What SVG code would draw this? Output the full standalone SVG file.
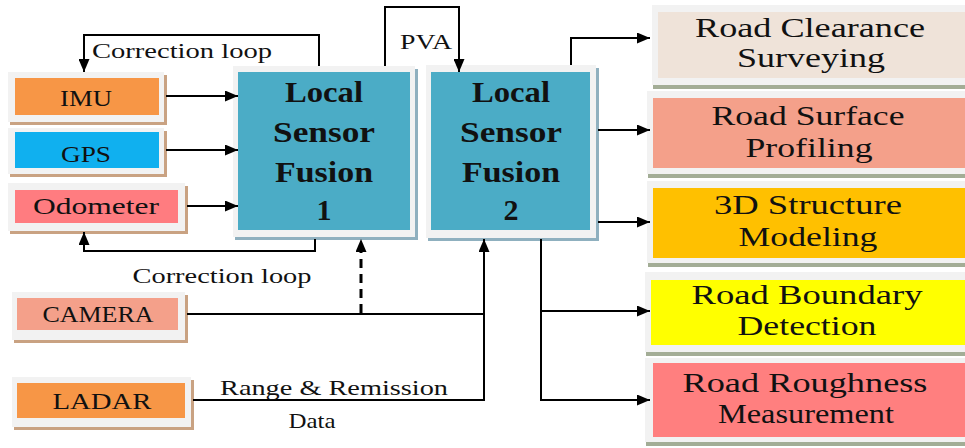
<svg xmlns="http://www.w3.org/2000/svg" width="965" height="448" viewBox="0 0 965 448">
<defs>
<marker id="arr" markerUnits="userSpaceOnUse" markerWidth="13" markerHeight="11" refX="13" refY="5.5" orient="auto">
<path d="M0,0 L13,5.5 L0,11 z" fill="#000"/>
</marker>
<style>
.frame{fill:#f2f2f2}
.shL{fill:#c9a282}
.shB{fill:#8fb0bf}
.shR{fill:#a3ad96}
.t{font-family:"Liberation Serif","Times New Roman",serif;fill:#111;text-anchor:middle}
.tb{font-family:"Liberation Serif","Times New Roman",serif;font-weight:bold;fill:#111;text-anchor:middle;font-size:30px}
.tr{font-family:"Liberation Serif","Times New Roman",serif;fill:#111;text-anchor:middle;font-size:28px}
.c{fill:none;stroke:#000;stroke-width:2}
</style>
</defs>
<rect width="965" height="448" fill="#fff"/>

<g id="imu">
<rect class="shL" x="10" y="75" width="157" height="50"/>
<rect class="frame" x="8" y="72" width="156" height="50"/>
<rect x="15" y="78" width="144" height="37" fill="#f79646"/>
<text class="t" x="86" y="106" font-size="24" textLength="52" lengthAdjust="spacingAndGlyphs">IMU</text>
</g>
<g id="gps">
<rect class="shL" x="10" y="131" width="157" height="46"/>
<rect class="frame" x="8" y="128" width="156" height="46"/>
<rect x="15" y="132" width="144" height="36" fill="#10b0ef"/>
<text class="t" x="86" y="162" font-size="24" textLength="50" lengthAdjust="spacingAndGlyphs">GPS</text>
</g>
<g id="odometer">
<rect class="shL" x="10" y="186" width="178" height="48"/>
<rect class="frame" x="8" y="183" width="177" height="48"/>
<rect x="15" y="190" width="163" height="33" fill="#ff7c80"/>
<text class="t" x="96" y="214" font-size="24" textLength="126" lengthAdjust="spacingAndGlyphs">Odometer</text>
</g>
<g id="camera">
<rect class="shL" x="14" y="295" width="174" height="48"/>
<rect class="frame" x="12" y="292" width="173" height="48"/>
<rect x="17" y="298" width="161" height="32" fill="#f4a08a"/>
<text class="t" x="98" y="322" font-size="24" textLength="111" lengthAdjust="spacingAndGlyphs">CAMERA</text>
</g>
<g id="ladar">
<rect class="shL" x="14" y="380" width="180" height="50"/>
<rect class="frame" x="12" y="377" width="179" height="50"/>
<rect x="17" y="383" width="168" height="35" fill="#f79646"/>
<text class="t" x="102" y="409" font-size="24" textLength="99" lengthAdjust="spacingAndGlyphs">LADAR</text>
</g>

<g id="lsf1">
<rect class="shB" x="235" y="69" width="183" height="171"/>
<rect class="frame" x="233" y="66" width="182" height="171"/>
<rect x="238" y="72" width="172" height="158" fill="#4bacc6"/>
<text class="tb" x="324" y="102" textLength="78" lengthAdjust="spacingAndGlyphs">Local</text>
<text class="tb" x="324" y="142" textLength="102" lengthAdjust="spacingAndGlyphs">Sensor</text>
<text class="tb" x="324" y="182" textLength="98" lengthAdjust="spacingAndGlyphs">Fusion</text>
<text class="tb" x="324" y="220">1</text>
</g>
<g id="lsf2">
<rect class="shB" x="428" y="68" width="171" height="173"/>
<rect class="frame" x="426" y="65" width="170" height="173"/>
<rect x="431" y="72" width="159" height="158" fill="#4bacc6"/>
<text class="tb" x="511" y="102" textLength="78" lengthAdjust="spacingAndGlyphs">Local</text>
<text class="tb" x="511" y="142" textLength="102" lengthAdjust="spacingAndGlyphs">Sensor</text>
<text class="tb" x="511" y="182" textLength="98" lengthAdjust="spacingAndGlyphs">Fusion</text>
<text class="tb" x="511" y="220">2</text>
</g>

<g id="clearance">
<rect class="shR" x="653" y="9" width="320" height="80"/>
<rect class="frame" x="652" y="5" width="320" height="80"/>
<rect x="658" y="12" width="310" height="66" fill="#efe3d9"/>
<text class="tr" x="810" y="37" textLength="230" lengthAdjust="spacingAndGlyphs">Road Clearance</text>
<text class="tr" x="811" y="67" textLength="148" lengthAdjust="spacingAndGlyphs">Surveying</text>
</g>
<g id="surface">
<rect class="shR" x="648" y="95" width="320" height="83"/>
<rect class="frame" x="647" y="91" width="320" height="83"/>
<rect x="653" y="98" width="315" height="70" fill="#f4a08a"/>
<text class="tr" x="808" y="125" textLength="193" lengthAdjust="spacingAndGlyphs">Road Surface</text>
<text class="tr" x="809" y="157" textLength="127" lengthAdjust="spacingAndGlyphs">Profiling</text>
</g>
<g id="structure">
<rect class="shR" x="648" y="185" width="320" height="82"/>
<rect class="frame" x="647" y="181" width="320" height="82"/>
<rect x="653" y="188" width="315" height="70" fill="#ffc000"/>
<text class="tr" x="808" y="214" textLength="188" lengthAdjust="spacingAndGlyphs">3D Structure</text>
<text class="tr" x="808" y="246" textLength="139" lengthAdjust="spacingAndGlyphs">Modeling</text>
</g>
<g id="boundary">
<rect class="shR" x="646" y="276" width="320" height="80"/>
<rect class="frame" x="645" y="272" width="320" height="80"/>
<rect x="651" y="280" width="315" height="65" fill="#ffff00"/>
<text class="tr" x="807" y="304" textLength="231" lengthAdjust="spacingAndGlyphs">Road Boundary</text>
<text class="tr" x="807" y="335" textLength="139" lengthAdjust="spacingAndGlyphs">Detection</text>
</g>
<g id="roughness">
<rect class="shR" x="646" y="362" width="320" height="84"/>
<rect class="frame" x="645" y="358" width="320" height="84"/>
<rect x="653" y="363" width="315" height="74" fill="#ff7f7f"/>
<text class="tr" x="805" y="392" textLength="245" lengthAdjust="spacingAndGlyphs">Road Roughness</text>
<text class="tr" x="806" y="423" font-size="25" textLength="176" lengthAdjust="spacingAndGlyphs">Measurement</text>
</g>

<g id="connectors">
<polyline class="c" points="319,66 319,35 84,35 84,72" marker-end="url(#arr)"/>
<line class="c" x1="166" y1="96" x2="238" y2="96" marker-end="url(#arr)"/>
<line class="c" x1="166" y1="150" x2="238" y2="150" marker-end="url(#arr)"/>
<line class="c" x1="187" y1="206" x2="238" y2="206" marker-end="url(#arr)"/>
<polyline class="c" points="315,239 315,251 84,251 84,232" marker-end="url(#arr)"/>
<polyline class="c" points="385,66 385,7 459,7 459,72" marker-end="url(#arr)"/>
<polyline class="c" points="571,65 571,38 650,38" marker-end="url(#arr)"/>
<line class="c" x1="598" y1="130" x2="650" y2="130" marker-end="url(#arr)"/>
<line class="c" x1="598" y1="222" x2="650" y2="222" marker-end="url(#arr)"/>
<polyline class="c" points="541,239 541,400 650,400" marker-end="url(#arr)"/>
<line class="c" x1="541" y1="311" x2="650" y2="311" marker-end="url(#arr)"/>
<polyline class="c" points="187,314 484,314"/>
<polyline class="c" points="193,400 484,400 484,239" marker-end="url(#arr)"/>
<line x1="361" y1="313" x2="361" y2="239" stroke="#000" stroke-width="3" stroke-dasharray="9,6" marker-end="url(#arr)"/>
<text class="t" x="182" y="58" font-size="22" textLength="180" lengthAdjust="spacingAndGlyphs">Correction loop</text>
<text class="t" x="222" y="283" font-size="22" textLength="179" lengthAdjust="spacingAndGlyphs">Correction loop</text>
<text class="t" x="426" y="49" font-size="22" textLength="52" lengthAdjust="spacingAndGlyphs">PVA</text>
<text class="t" x="334" y="395" font-size="22" textLength="228" lengthAdjust="spacingAndGlyphs">Range &amp; Remission</text>
<text class="t" x="312" y="428" font-size="22" textLength="47" lengthAdjust="spacingAndGlyphs">Data</text>
</g>
</svg>
